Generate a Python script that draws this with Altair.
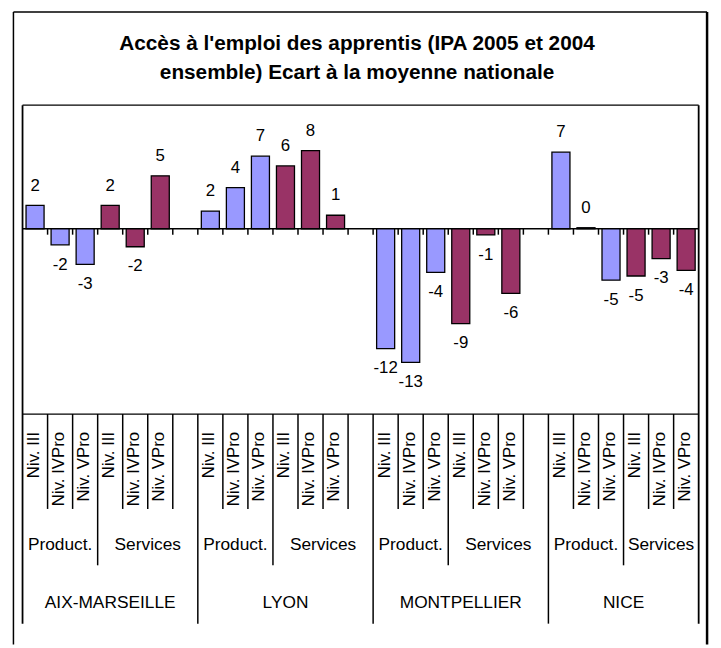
import altair as alt
import pandas as pd

# ---------------- data ----------------
regions = ["AIX-MARSEILLE", "LYON", "MONTPELLIER", "NICE"]
sectors = ["Product.", "Services"]
levels = ["Niv. III", "Niv. IVPro", "Niv. VPro"]

# per region: Product. (III, IVPro, VPro) then Services (III, IVPro, VPro)
aix_marseille = [2.27, -1.56, -3.47, 2.27, -1.75, 5.14]
lyon = [1.72, 3.99, 7.05, 6.10, 7.60, 1.31]
montpellier = [-11.64, -12.98, -4.24, -9.22, -0.60, -6.28]
nice = [7.44, 0.10, -5.00, -4.59, -2.90, -4.05]
region_values = [aix_marseille, lyon, montpellier, nice]

sector_colors = ["#9999FF", "#993366"]
title_lines = ["Accès à l'emploi des apprentis (IPA 2005 et 2004",
               "ensemble) Ecart à la moyenne nationale"]
y_domain = [-18, 12]

# ---------------- layout (view pixels) ----------------
W, H = 713, 640
PL, PR, PT, PB = 14.7, 698.5, 94.7, 407.0
LEVEL_END, SECTOR_END, REGION_END = 503, 560, 619
FONT = "Liberation Sans"

n_per_region = 7
n_slots = n_per_region * len(regions) - 1  # 27 (blank slot between regions)
ppu = (PB - PT) / (y_domain[1] - y_domain[0])

xs = alt.Scale(domain=[0, n_slots], range=[PL, PR], nice=False, zero=False)
ys = alt.Scale(domain=y_domain, range=[PB, PT], nice=False, zero=False)

bar_rows, sector_rows, region_rows = [], [], []
for r, (reg, vals) in enumerate(zip(regions, region_values)):
    start = n_per_region * r
    end = min(start + n_per_region, n_slots)
    region_rows.append(dict(text=reg, xc=(start + end) / 2))
    sector_rows.append(dict(text=sectors[0], xc=(start + start + 3) / 2))
    sector_rows.append(dict(text=sectors[1], xc=(start + 3 + end) / 2))
    for s in range(2):
        for l in range(3):
            slot = start + 3 * s + l
            v = vals[3 * s + l]
            bar_rows.append(dict(region=reg, sector=sectors[s], level=levels[l],
                                 value=v, zero=0, x0=slot + 0.14, x1=slot + 0.86,
                                 xc=slot + 0.5, lx=slot + 0.655,
                                 label=str(round(v))))
bars_df = pd.DataFrame(bar_rows)
pos_df = bars_df[bars_df.value >= 0]
neg_df = bars_df[bars_df.value < 0]

sep_rows = []
for b in range(1, n_slots):
    if b % n_per_region == 0:
        yb = REGION_END
    elif b % n_per_region == 3:
        yb = SECTOR_END
    else:
        yb = LEVEL_END
    sep_rows.append(dict(b=b, ytop=PB, ybot=yb, t0=0, t1=-6 / ppu))
sep_df = pd.DataFrame(sep_rows)

frame_v = pd.DataFrame([dict(b=0, ytop=PT, ybot=REGION_END),
                        dict(b=n_slots, ytop=PT, ybot=REGION_END)])
frame_h = pd.DataFrame([dict(a=0, c=n_slots, y=PT), dict(a=0, c=n_slots, y=PB)])
zero_df = pd.DataFrame([dict(a=0, c=n_slots, v=0)])

# ---------------- layers ----------------
outer_left = alt.Chart(zero_df).mark_rule(color="black", strokeWidth=1.5).encode(
    x=alt.value(5.5), y=alt.value(0.5), y2=alt.value(H))
outer_top = alt.Chart(zero_df).mark_rule(color="black", strokeWidth=1.5).encode(
    x=alt.value(5.5), x2=alt.value(707), y=alt.value(0.5))
outer_right = alt.Chart(zero_df).mark_rule(color="black", strokeWidth=2.5).encode(
    x=alt.value(707), y=alt.value(0.5), y2=alt.value(H))

fv = alt.Chart(frame_v).mark_rule(color="black", strokeWidth=1.8).encode(
    x=alt.X("b:Q", scale=xs, axis=None),
    y=alt.Y("ytop:Q", scale=None, axis=None), y2="ybot:Q")
fh = alt.Chart(frame_h).mark_rule(color="black", strokeWidth=1.3).encode(
    x=alt.X("a:Q", scale=xs, axis=None), x2="c:Q",
    y=alt.Y("y:Q", scale=None, axis=None))
seps = alt.Chart(sep_df).mark_rule(color="black", strokeWidth=1.5).encode(
    x=alt.X("b:Q", scale=xs, axis=None),
    y=alt.Y("ytop:Q", scale=None, axis=None), y2="ybot:Q")

zero_line = alt.Chart(zero_df).mark_rule(color="black", strokeWidth=1.5).encode(
    x=alt.X("a:Q", scale=xs, axis=None), x2="c:Q",
    y=alt.Y("v:Q", scale=ys, axis=None))
ticks = alt.Chart(sep_df).mark_rule(color="black", strokeWidth=1.5).encode(
    x=alt.X("b:Q", scale=xs, axis=None),
    y=alt.Y("t0:Q", scale=ys, axis=None), y2="t1:Q")

bars = alt.Chart(bars_df).mark_bar(stroke="black", strokeWidth=1.3).encode(
    x=alt.X("x0:Q", scale=xs, axis=None), x2="x1:Q",
    y=alt.Y("value:Q", scale=ys, axis=None), y2="zero:Q",
    color=alt.Color("sector:N", scale=alt.Scale(domain=sectors, range=sector_colors),
                    legend=None))

lab_pos = alt.Chart(pos_df).mark_text(font=FONT, fontSize=17, dy=-15,
                                      baseline="alphabetic", color="black").encode(
    x=alt.X("xc:Q", scale=xs, axis=None),
    y=alt.Y("value:Q", scale=ys, axis=None), text="label:N")
lab_neg = alt.Chart(neg_df).mark_text(font=FONT, fontSize=17, dy=25,
                                      baseline="alphabetic", color="black").encode(
    x=alt.X("xc:Q", scale=xs, axis=None),
    y=alt.Y("value:Q", scale=ys, axis=None), text="label:N")

level_text = alt.Chart(bars_df).mark_text(font=FONT, fontSize=17, angle=270,
                                          align="right", baseline="alphabetic",
                                          color="black").encode(
    x=alt.X("lx:Q", scale=xs, axis=None), y=alt.value(425), text="level:N")
sector_text = alt.Chart(pd.DataFrame(sector_rows)).mark_text(
    font=FONT, fontSize=17.5, baseline="middle", color="black").encode(
    x=alt.X("xc:Q", scale=xs, axis=None), y=alt.value(540), text="text:N")
region_text = alt.Chart(pd.DataFrame(region_rows)).mark_text(
    font=FONT, fontSize=17.5, baseline="middle", color="black").encode(
    x=alt.X("xc:Q", scale=xs, axis=None), y=alt.value(598), text="text:N")

title1 = alt.Chart(pd.DataFrame([dict(t=title_lines[0])])).mark_text(
    font=FONT, fontSize=21, fontWeight="bold", baseline="alphabetic",
    color="black").encode(x=alt.value(353), y=alt.value(38.5), text="t:N")
title2 = alt.Chart(pd.DataFrame([dict(t=title_lines[1])])).mark_text(
    font=FONT, fontSize=21, fontWeight="bold", baseline="alphabetic",
    color="black").encode(x=alt.value(353), y=alt.value(68), text="t:N")

chart = alt.layer(
    outer_left, outer_top, outer_right, title1, title2,
    zero_line, bars, ticks, fh, fv, seps,
    lab_pos, lab_neg, level_text, sector_text, region_text,
).properties(
    width=W, height=H, padding=0, autosize=alt.AutoSizeParams(type="none"),
    background="white",
).configure_view(stroke=None)

chart.save("out.html", embed_options={"renderer": "svg", "actions": False})
